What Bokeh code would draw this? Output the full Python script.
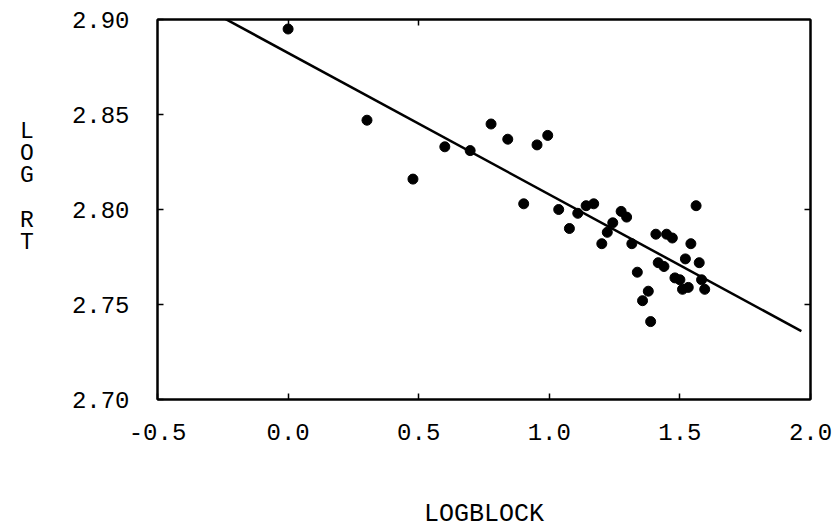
from bokeh.plotting import figure
from bokeh.models import Range1d, LinearAxis, FixedTicker, PrintfTickFormatter
from bokeh.embed import file_html
from bokeh.resources import INLINE

# observed data (LOGBLOCK vs LOG RT)
logblock = [0.000, 0.302, 0.478, 0.600, 0.697, 0.777, 0.841, 0.953, 0.994, 0.902,
            1.036, 1.077, 1.109, 1.141, 1.170, 1.201, 1.222, 1.243, 1.275, 1.296,
            1.316, 1.337, 1.379, 1.357, 1.388, 1.408, 1.449, 1.471, 1.417, 1.439,
            1.481, 1.500, 1.510, 1.532, 1.521, 1.542, 1.562, 1.574, 1.583, 1.595]
logrt = [2.895, 2.847, 2.816, 2.833, 2.831, 2.845, 2.837, 2.834, 2.839, 2.803,
         2.800, 2.790, 2.798, 2.802, 2.803, 2.782, 2.788, 2.793, 2.799, 2.796,
         2.782, 2.767, 2.757, 2.752, 2.741, 2.787, 2.787, 2.785, 2.772, 2.770,
         2.764, 2.763, 2.758, 2.759, 2.774, 2.782, 2.802, 2.772, 2.763, 2.758]

# fitted regression line
fit_intercept = 2.8824
fit_slope = -0.0745
fit_x = [-0.5, 1.965]
fit_y = [fit_intercept + fit_slope * x for x in fit_x]

x_ticks = [-0.5, 0.0, 0.5, 1.0, 1.5, 2.0]
y_ticks = [2.70, 2.75, 2.80, 2.85, 2.90]
top_ticks = [0.0, 0.5]
right_ticks = [2.75, 2.80]

FONT = "Liberation Mono"

p = figure(width=833, height=531, output_backend="svg", toolbar_location=None,
           x_range=Range1d(-0.5, 2.0), y_range=Range1d(2.70, 2.90),
           x_axis_location=None, y_axis_location=None,
           min_border_left=157, min_border_right=23, min_border_top=19,
           min_border_bottom=132)
p.grid.visible = False
p.background_fill_color = "white"
p.border_fill_color = "white"
p.outline_line_color = "black"
p.outline_line_width = 2

def style_axis(ax):
    ax.axis_line_color = "black"
    ax.axis_line_width = 2
    ax.major_tick_in = 6
    ax.major_tick_out = 0
    ax.minor_tick_line_color = None
    ax.major_tick_line_width = 1.5
    ax.major_label_text_font = FONT
    ax.major_label_text_font_size = "24px"
    ax.major_label_text_color = "black"
    ax.axis_label_text_color = "black"

xb = LinearAxis(ticker=FixedTicker(ticks=x_ticks), formatter=PrintfTickFormatter(format="%.1f"))
style_axis(xb)
xb.major_label_standoff = 24
xb.axis_label = "LOGBLOCK"
xb.axis_label_text_font = FONT
xb.axis_label_text_font_size = "25px"
xb.axis_label_text_font_style = "normal"
xb.axis_label_standoff = 57
p.add_layout(xb, "below")

yl = LinearAxis(ticker=FixedTicker(ticks=y_ticks), formatter=PrintfTickFormatter(format="%.2f"))
style_axis(yl)
yl.major_label_standoff = 28
yl.axis_label = "L\nO\nG\n\nR\nT\n\n"
yl.axis_label_orientation = "horizontal"
yl.axis_label_text_font = FONT
yl.axis_label_text_font_size = "23px"
yl.axis_label_text_font_style = "normal"
yl.axis_label_text_line_height = 0.85
yl.axis_label_standoff = 35
p.add_layout(yl, "left")

xt = LinearAxis(ticker=FixedTicker(ticks=top_ticks))
style_axis(xt)
xt.major_label_overrides = {t: "" for t in top_ticks}
p.add_layout(xt, "above")

yr = LinearAxis(ticker=FixedTicker(ticks=right_ticks))
style_axis(yr)
yr.major_label_overrides = {t: "" for t in right_ticks}
p.add_layout(yr, "right")

p.line(fit_x, fit_y, line_color="black", line_width=2.5)
p.scatter(logblock, logrt, size=10, marker="circle", fill_color="black", line_color="black")

open("out.html", "w").write(file_html(p, INLINE))
